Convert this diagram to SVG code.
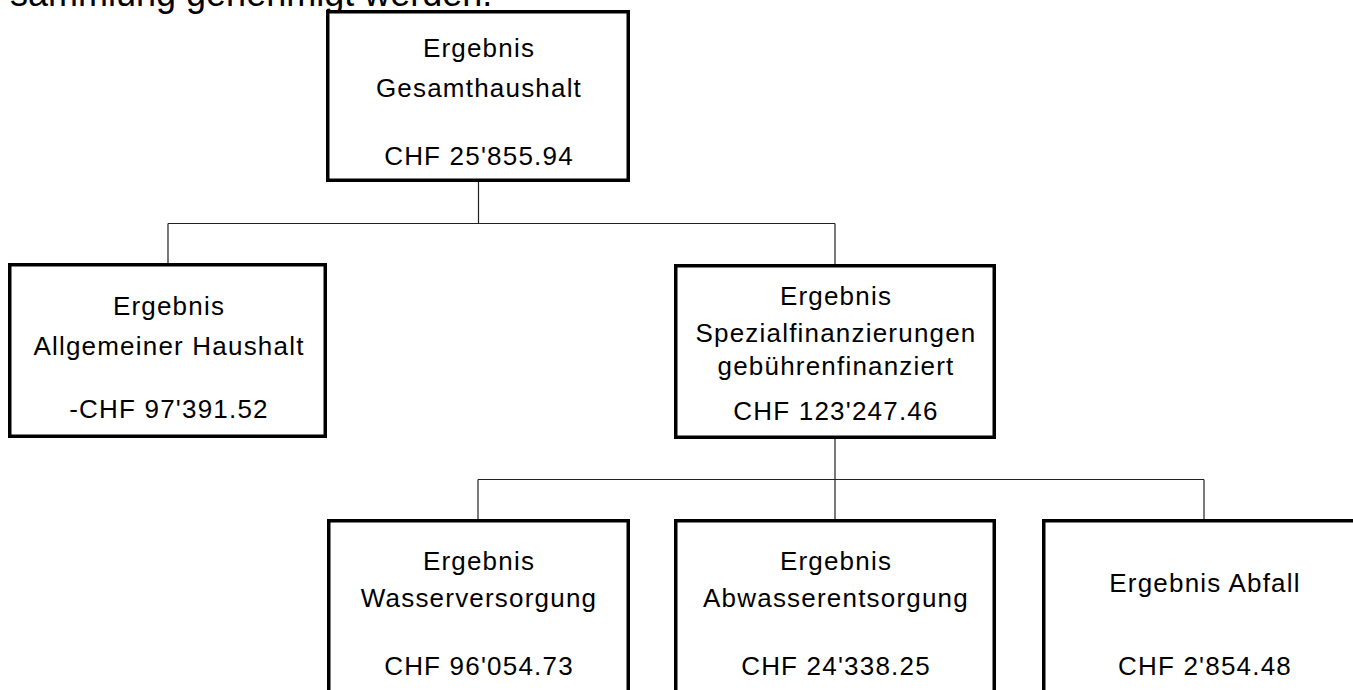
<svg xmlns="http://www.w3.org/2000/svg" width="1353" height="690" viewBox="0 0 1353 690">
<style>
.box{fill:#fff;stroke:#000;stroke-width:3.5}
.t{font-family:"Liberation Sans",Arial,sans-serif;font-size:26px;letter-spacing:1.2px;text-anchor:middle;fill:#000}
.c{fill:none;stroke:#222;stroke-width:1.2}
.head{font-family:"Liberation Sans",Arial,sans-serif;font-size:36px;fill:#000}
</style>
<rect width="1353" height="690" fill="#fff"/>
<text class="head" x="10" y="6">sammlung genehmigt werden.</text>
<g id="connectors">
<path class="c" d="M478.5 182V223.5M168 223.5H835M168 223.5V263M835 223.5V264M835 439V479.5M478 479.5H1204M478 479.5V519M835 479.5V519M1204 479.5V519"/>
</g>
<g id="gesamt">
<rect class="box" x="327.75" y="11.75" width="300.5" height="168.5"/>
<text class="t" x="479" y="57">Ergebnis</text>
<text class="t" x="479" y="97">Gesamthaushalt</text>
<text class="t" x="479" y="165">CHF 25'855.94</text>
</g>
<g id="allgemein">
<rect class="box" x="9.75" y="264.75" width="315.5" height="171.5"/>
<text class="t" x="169" y="315">Ergebnis</text>
<text class="t" x="169" y="355">Allgemeiner Haushalt</text>
<text class="t" x="169" y="418">-CHF 97'391.52</text>
</g>
<g id="spezial">
<rect class="box" x="675.75" y="265.75" width="318.5" height="171.5"/>
<text class="t" x="836" y="305">Ergebnis</text>
<text class="t" x="836" y="342">Spezialfinanzierungen</text>
<text class="t" x="836" y="375">gebührenfinanziert</text>
<text class="t" x="836" y="420">CHF 123'247.46</text>
</g>
<g id="wasser">
<rect class="box" x="328.75" y="520.75" width="299.5" height="200"/>
<text class="t" x="479" y="570">Ergebnis</text>
<text class="t" x="479" y="607">Wasserversorgung</text>
<text class="t" x="479" y="675">CHF 96'054.73</text>
</g>
<g id="abwasser">
<rect class="box" x="675.75" y="520.75" width="318.5" height="200"/>
<text class="t" x="836" y="570">Ergebnis</text>
<text class="t" x="836" y="607">Abwasserentsorgung</text>
<text class="t" x="836" y="675">CHF 24'338.25</text>
</g>
<g id="abfall">
<rect class="box" x="1043.75" y="520.75" width="330" height="200"/>
<text class="t" x="1205" y="592">Ergebnis Abfall</text>
<text class="t" x="1205" y="675">CHF 2'854.48</text>
</g>
</svg>
